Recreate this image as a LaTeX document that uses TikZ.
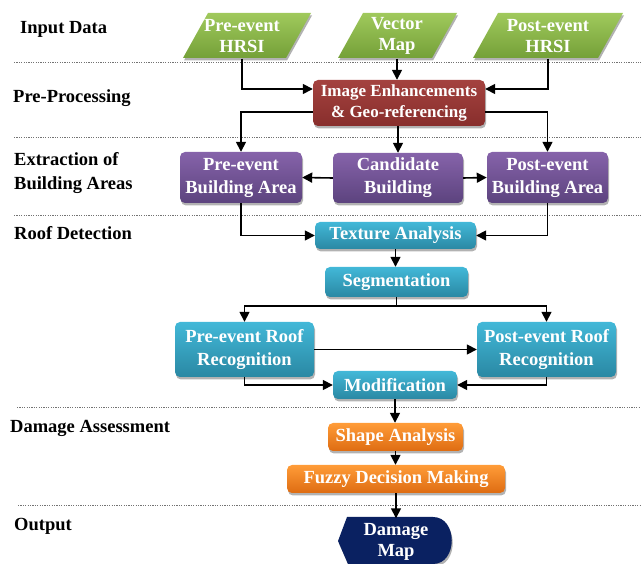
\documentclass[tikz,border=0pt]{standalone}
\usepackage{fontspec}
\setmainfont{Liberation Serif}
\usetikzlibrary{arrows.meta,shadows,calc}
\definecolor{gTop}{RGB}{160,201,92}
\definecolor{gBot}{RGB}{116,160,56}
\definecolor{rTop}{RGB}{164,66,63}
\definecolor{rBot}{RGB}{136,46,44}
\definecolor{pTop}{RGB}{134,99,170}
\definecolor{pBot}{RGB}{92,67,126}
\definecolor{tTop}{RGB}{66,184,216}
\definecolor{tBot}{RGB}{42,136,163}
\definecolor{oTop}{RGB}{255,156,56}
\definecolor{oBot}{RGB}{222,108,18}
\definecolor{navy}{RGB}{10,33,97}
\begin{document}
\begin{tikzpicture}[x=1pt,y=-1pt,
  lbl/.style={font=\fontsize{18.5}{24}\selectfont\bfseries, anchor=west, align=left, inner sep=0pt},
  shd/.style={drop shadow={shadow xshift=1pt,shadow yshift=-2.5pt,fill=black!55,opacity=.55}},
  box/.style={shd, rounded corners=5pt, text=white, font=\fontsize{18.5}{23}\selectfont\bfseries, align=center, inner sep=0pt},
  redbox/.style={box, top color=rTop, bottom color=rBot},
  purplebox/.style={box, top color=pTop, bottom color=pBot},
  tealbox/.style={box, top color=tTop, bottom color=tBot},
  orangebox/.style={box, top color=oTop, bottom color=oBot},
  txt/.style={text=white, font=\fontsize{18.5}{21}\selectfont\bfseries, align=center, inner sep=0pt},
  arr/.style={-{Triangle[length=10pt,width=10pt]}, line width=1.6pt},
  ln/.style={line width=1.6pt},
  sep/.style={black!55, line width=0.6pt, dash pattern=on 1.2pt off 1.2pt}]
\useasboundingbox (0,0) rectangle (641,564);

% separators
\draw[sep] (14,62) -- (641,62);
\draw[sep] (14,137) -- (641,137);
\draw[sep] (14,215) -- (641,215);
\draw[sep] (17,407) -- (641,407);
\draw[sep] (18,505) -- (641,505);

% left labels
\node[lbl] (l1) at (20,29) {Input Data};
\node[lbl] (l2) at (13,98) {Pre-Processing};
\node[lbl] (l3) at (14,173) {Extraction of\\Building Areas};
\node[lbl] (l4) at (14,233) {Roof Detection};
\node[lbl] (l5) at (10,428) {Damage Assessment};
\node[lbl] (l6) at (14,526) {Output};

% input parallelograms
\shade[shd, top color=gTop, bottom color=gBot] (183,58) -- (286,58) -- (311,13) -- (208,13) -- cycle;
\shade[shd, top color=gTop, bottom color=gBot] (338,58) -- (432,58) -- (457,13) -- (363,13) -- cycle;
\shade[shd, top color=gTop, bottom color=gBot] (473,58) -- (598,58) -- (623,13) -- (498,13) -- cycle;
\node[txt, minimum height=45pt] (preH) at (242,36) {Pre-event\\HRSI};
\node[txt, minimum height=45pt] (vec) at (397,36) {Vector\\Map};
\node[txt, minimum height=45pt] (postH) at (548,36) {Post-event\\HRSI};

% boxes
\node[redbox, minimum width=172pt, minimum height=46pt, font=\fontsize{17}{21}\selectfont\bfseries] (ie) at (399,103) {Image Enhancements\\\& Geo-referencing};
\node[purplebox, minimum width=122pt, minimum height=51pt] (preBA) at (241,177.5) {Pre-event\\Building Area};
\node[purplebox, minimum width=130pt, minimum height=50pt] (cand) at (398,178) {Candidate\\Building};
\node[purplebox, minimum width=121pt, minimum height=51pt] (postBA) at (547.5,177.5) {Post-event\\Building Area};
\node[tealbox, minimum width=161pt, minimum height=27pt] (ta) at (395.5,235.5) {Texture Analysis};
\node[tealbox, minimum width=143pt, minimum height=30pt] (seg) at (396.5,282) {Segmentation};
\node[tealbox, minimum width=139pt, minimum height=55pt] (preR) at (244.5,349.5) {Pre-event Roof\\Recognition};
\node[tealbox, minimum width=139pt, minimum height=55pt] (postR) at (546.5,349.5) {Post-event Roof\\Recognition};
\node[tealbox, minimum width=124pt, minimum height=28pt] (mod) at (395,385) {Modification};
\node[orangebox, minimum width=135pt, minimum height=28pt] (sha) at (395.5,437) {Shape Analysis};
\node[orangebox, minimum width=218pt, minimum height=28pt] (fuz) at (396,479) {Fuzzy Decision Making};

% damage map (display shape)
\fill[shd, navy] (347,517) -- (433,517) .. controls (458,517) and (458,564) .. (433,564) -- (348,564) -- (338,541) -- cycle;
\node[txt, minimum width=110pt, minimum height=47pt] (dm) at (396,542) {Damage\\Map};

% connectors
\draw[arr] (preH.south) |- ($(ie.west)+(0,-14)$);
\draw[arr] (postH.south) |- ($(ie.east)+(0,-14)$);
\draw[arr] (vec.south) -- (ie.north -| vec.south);
\draw[arr] ($(ie.west)+(0,9)$) -| (preBA.north);
\draw[arr] ($(ie.east)+(0,9)$) -| (postBA.north);
\draw[arr] (ie.south -| cand.north) -- (cand.north);
\draw[arr] (cand.west) -- (preBA.east);
\draw[arr] (cand.east) -- (postBA.west);
\draw[arr] (preBA.south) |- (ta.west);
\draw[arr] (postBA.south) |- (ta.east);
\draw[arr] (ta.south) -- (ta.south |- seg.north);
\draw[ln] (seg.south) -- ++(0,9) coordinate (split);
\draw[arr] (split) -| (preR.north);
\draw[arr] (split) -| (postR.north);
\draw[arr] (preR.east) -- (postR.west);
\draw[arr] (preR.south) |- (mod.west);
\draw[arr] (postR.south) |- (mod.east);
\draw[arr] (mod.south) -- (mod.south |- sha.north);
\draw[arr] (sha.south) -- (sha.south |- fuz.north);
\draw[arr] (fuz.south) -- (fuz.south |- dm.north);
\end{tikzpicture}
\end{document}
